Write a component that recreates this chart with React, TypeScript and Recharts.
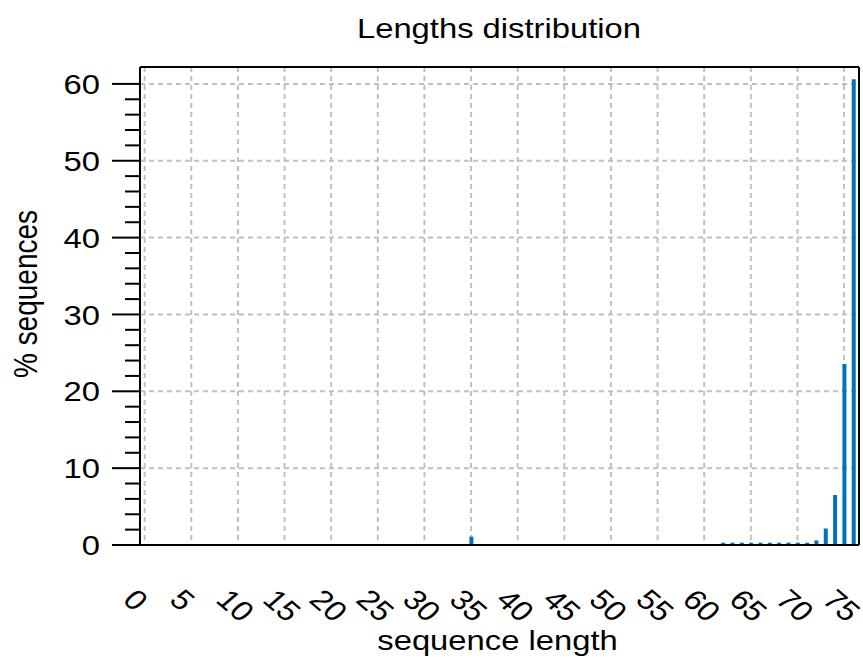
import { Bar, BarChart, CartesianGrid, Label, ReferenceLine, XAxis, YAxis } from 'recharts';

// sequence lengths that have any reads, and their share in %
const lengths = [35, 62, 63, 64, 65, 66, 67, 68, 69, 70, 71, 72, 73, 74, 75, 76];
const percents = [1.08, 0.3, 0.3, 0.3, 0.3, 0.3, 0.3, 0.3, 0.3, 0.3, 0.3, 0.6, 2.15, 6.5, 23.55, 60.6];

const xTicks = [0, 5, 10, 15, 20, 25, 30, 35, 40, 45, 50, 55, 60, 65, 70, 75];
const yMajorTicks = [10, 20, 30, 40, 50, 60];
const yTicks = [
  0, 2, 4, 6, 8, 10, 12, 14, 16, 18, 20, 22, 24, 26, 28, 30,
  32, 34, 36, 38, 40, 42, 44, 46, 48, 50, 52, 54, 56, 58, 60,
];

const X_DOMAIN: [number, number] = [-0.5, 76.6];
const Y_DOMAIN: [number, number] = [0, 62.2];

const FONT = '"Liberation Sans", Arial, Helvetica, sans-serif';
const SX = 1.17; // the figure is stretched sideways
const BLUE = '#0072BD';
const GRID = '#c0c0c0';

const data = lengths.map((len, i) => ({ len, pct: percents[i] }));

const XTick = ({ x, y, payload }: any) => (
  <text
    transform={`translate(${x - 15},${y + 49}) scale(${SX},1) rotate(45)`}
    textAnchor='start'
    dominantBaseline='central'
    fontSize={28}
    fontFamily={FONT}
    fill='#000'
  >
    {payload.value}
  </text>
);

const YTick = ({ x, y, payload }: any) => {
  const major = payload.value % 10 === 0;
  return (
    <g>
      <line x1={x - (major ? 28 : 15)} x2={x} y1={y} y2={y} stroke='#000' strokeWidth={2} />
      {major && (
        <text
          transform={`translate(${x - 40},${y}) scale(${SX},1)`}
          textAnchor='end'
          dominantBaseline='central'
          fontSize={28}
          fontFamily={FONT}
          fill='#000'
        >
          {payload.value}
        </text>
      )}
    </g>
  );
};

const XLabel = ({ viewBox }: any) => (
  <text
    transform={`translate(${viewBox.x + viewBox.width / 2 - 2},${viewBox.y + 105}) scale(${SX},1)`}
    textAnchor='middle'
    fontSize={28}
    fontFamily={FONT}
    fill='#000'
  >
    sequence length
  </text>
);

const YLabel = ({ viewBox }: any) => (
  <text
    transform={`translate(25,${viewBox.y + viewBox.height / 2 - 12}) scale(${SX},1) rotate(-90)`}
    textAnchor='middle'
    dominantBaseline='central'
    fontSize={28}
    fontFamily={FONT}
    fill='#000'
  >
    % sequences
  </text>
);

// horizontal grid only at the labelled ticks (linear y domain)
const majorRows = ({ offset }: any) =>
  yMajorTicks.map((t) => offset.top + offset.height * (1 - (t - Y_DOMAIN[0]) / (Y_DOMAIN[1] - Y_DOMAIN[0])));

export default function App() {
  return (
    <div style={{ position: 'absolute', left: 0, top: 0, width: 863, height: 658, background: '#fff' }}>
      <svg width={863} height={60} style={{ position: 'absolute', left: 0, top: 0 }}>
        <text
          transform={`translate(499,38) scale(${SX},1)`}
          textAnchor='middle'
          fontSize={28}
          fontFamily={FONT}
          fill='#000'
        >
          Lengths distribution
        </text>
      </svg>
      <BarChart
        width={863}
        height={658}
        data={data}
        margin={{ top: 67, right: 4, left: 0, bottom: 0 }}
      >
        <CartesianGrid
          stroke={GRID}
          strokeWidth={2}
          strokeDasharray='5 4'
          horizontalCoordinatesGenerator={majorRows}
        />
        <XAxis
          dataKey='len'
          type='number'
          domain={X_DOMAIN}
          allowDataOverflow
          ticks={xTicks}
          interval={0}
          height={113}
          tickLine={false}
          tickSize={0}
          tickMargin={0}
          tick={<XTick />}
          axisLine={{ stroke: '#000', strokeWidth: 2 }}
        >
          <Label content={XLabel} />
        </XAxis>
        <YAxis
          type='number'
          domain={Y_DOMAIN}
          allowDataOverflow
          ticks={yTicks}
          interval={0}
          width={140}
          tickLine={false}
          tickSize={0}
          tickMargin={0}
          tick={<YTick />}
          axisLine={{ stroke: '#000', strokeWidth: 2 }}
        >
          <Label content={YLabel} />
        </YAxis>
        <ReferenceLine y={Y_DOMAIN[1]} stroke='#000' strokeWidth={2} />
        <ReferenceLine x={X_DOMAIN[1]} stroke='#000' strokeWidth={2} />
        <Bar dataKey='pct' fill={BLUE} barSize={4} isAnimationActive={false} />
      </BarChart>
    </div>
  );
}
